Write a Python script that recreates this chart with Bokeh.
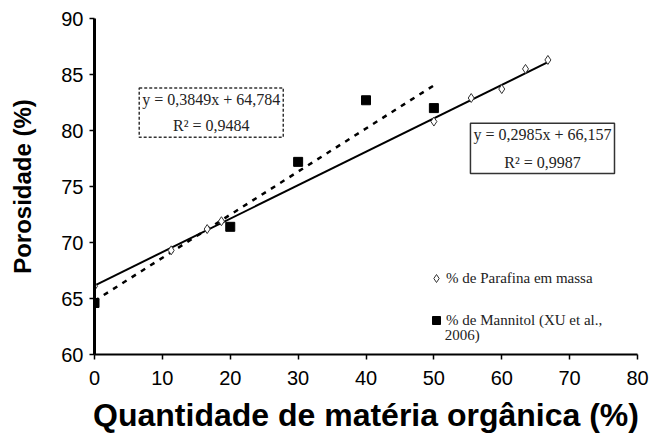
from bokeh.plotting import figure
from bokeh.models import Label, Legend, LegendItem, Range1d, FixedTicker
from bokeh.embed import file_html
from bokeh.resources import INLINE

# ---- data ----
paraf_x = [0, 11.3, 16.6, 18.7, 50, 55.5, 60, 63.5, 66.8]
paraf_y = [66.1, 69.3, 71.2, 71.9, 80.8, 82.9, 83.7, 85.5, 86.3]
mann_x = [0, 20, 30, 40, 50]
mann_y = [64.6, 71.4, 77.2, 82.7, 82.0]

paraf_slope, paraf_icpt = 0.2985, 66.157
mann_slope, mann_icpt = 0.3849, 64.784
paraf_eq = "y = 0,2985x + 66,157\nR\u00b2 = 0,9987"
mann_eq = "y = 0,3849x + 64,784\nR\u00b2 = 0,9484"
paraf_label = "% de Parafina em massa"
mann_label = "% de Mannitol (XU et al.,"
mann_label_2 = "2006)"

x_ticks = [0, 10, 20, 30, 40, 50, 60, 70, 80]
y_ticks = [60, 65, 70, 75, 80, 85, 90]

p = figure(width=655, height=435, output_backend="svg", toolbar_location=None,
           x_range=Range1d(0, 80), y_range=Range1d(60, 90),
           min_border_left=94, min_border_right=18, min_border_top=18, min_border_bottom=81)
p.outline_line_color = None
p.grid.visible = False
p.background_fill_color = "white"
p.border_fill_color = "white"

# regression lines (computed from the equations)
fx = [0, max(paraf_x)]
p.line(fx, [paraf_slope * v + paraf_icpt for v in fx], line_color="black", line_width=2)
mx = [0, max(mann_x)]
p.line(mx, [mann_slope * v + mann_icpt for v in mx], line_color="black", line_width=2.5,
       line_dash="5 6")

r1 = p.scatter(paraf_x, paraf_y, marker="diamond", size=9, fill_color="white",
               line_color="#333333", line_width=1)
r2 = p.scatter(mann_x, mann_y, marker="square", size=9, fill_color="black", line_color="black")

# equation boxes
p.add_layout(Label(x=17.2, y=81.6, text=mann_eq, text_align="center", text_baseline="middle",
                   text_font="Liberation Serif", text_font_size="16px", text_color="#222222",
                   text_line_height=1.55,
                   border_line_color="#333333", border_line_dash="3 2", border_line_width=1.5,
                   background_fill_color="white", padding=3))
p.add_layout(Label(x=66.0, y=78.4, text=paraf_eq, text_align="center", text_baseline="middle",
                   text_font="Liberation Serif", text_font_size="16px", text_color="#222222",
                   text_line_height=1.6,
                   border_line_color="#333333", border_line_width=1.5,
                   background_fill_color="white", padding=3))

legend = Legend(items=[LegendItem(label=paraf_label, renderers=[r1]),
                       LegendItem(label=mann_label, renderers=[r2])],
                location=(332, 24), label_text_font="Liberation Serif",
                label_text_font_size="15px", label_text_color="#222222",
                glyph_width=20, glyph_height=20, label_standoff=0, spacing=22,
                label_height=20, padding=0, margin=0, border_line_alpha=0,
                background_fill_alpha=0)
p.add_layout(legend)
p.add_layout(Label(x=51.6, y=61.7, text=mann_label_2, text_align="left", text_baseline="middle",
                   text_font="Liberation Serif", text_font_size="15px", text_color="#222222"))

for ax in (p.xaxis[0], p.yaxis[0]):
    ax.axis_line_color = "black"
    ax.major_tick_line_color = "black"
    ax.major_tick_line_width = 1.5
    ax.major_tick_out = 5
    ax.major_tick_in = 0
    ax.minor_tick_line_color = None
    ax.major_label_text_font = "Liberation Sans"
    ax.major_label_text_font_size = "20px"
    ax.major_label_text_color = "black"
    ax.axis_label_text_font = "Liberation Sans"
    ax.axis_label_text_font_style = "bold"
    ax.axis_label_text_color = "black"

p.xaxis[0].ticker = FixedTicker(ticks=x_ticks)
p.yaxis[0].ticker = FixedTicker(ticks=y_ticks)
p.xaxis[0].axis_line_width = 2
p.yaxis[0].axis_line_width = 3
p.xaxis[0].major_label_standoff = 11
p.yaxis[0].major_label_standoff = 6
p.xaxis[0].axis_label = "Quantidade de matéria orgânica (%)"
p.yaxis[0].axis_label = "Porosidade (%)"
p.xaxis[0].axis_label_text_font_size = "32px"
p.yaxis[0].axis_label_text_font_size = "24px"
p.xaxis[0].axis_label_standoff = 9
p.yaxis[0].axis_label_standoff = 22

open("out.html", "w").write(file_html(p, INLINE))
